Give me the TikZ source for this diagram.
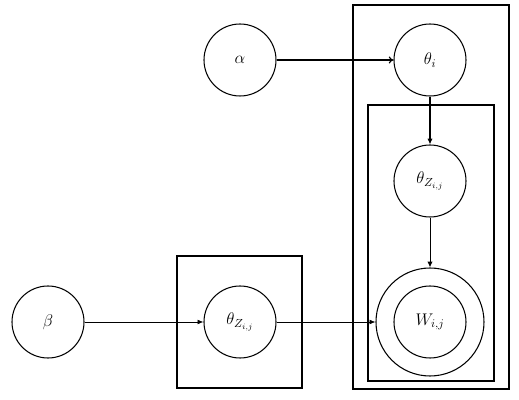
\documentclass[tikz,border=0pt]{standalone}
\usetikzlibrary{arrows.meta}
\begin{document}
\begin{tikzpicture}[x=0.03cm,y=-0.03cm,
  var/.style={circle,draw,line width=0.9pt,minimum size=72*0.03cm,inner sep=0pt,font=\Large},
  plate/.style={draw,line width=1.3pt},
  edge/.style={-{Latex[length=5pt,width=4pt]},line width=0.6pt}]
\useasboundingbox (0,0) rectangle (519,400);
% plates
\draw[plate] (353,5) rectangle (509,389);
\draw[plate] (368,105) rectangle (494,381);
\draw[plate] (177,256) rectangle (302,388);
% nodes
\node[var] (alpha) at (240,60) {$\alpha$};
\node[var] (thetai) at (430,60) {$\theta_i$};
\node[var] (thetaz) at (430,181) {$\theta_{Z_{i,j}}$};
\node[var,minimum size=108*0.03cm] (wout) at (430,322) {};
\node[var] (w) at (430,322) {$W_{i,j}$};
\node[var] (beta) at (48,322) {$\beta$};
\node[var] (thetazb) at (240,322) {$\theta_{Z_{i,j}}$};
% edges
\draw[-{To[length=4pt,width=6pt]},line width=1pt] (alpha) -- (thetai);
\draw[-{Latex[length=5pt,width=4.5pt]},line width=0.9pt] (thetai) -- (thetaz);
\draw[-{Latex[length=5pt,width=4.5pt]},line width=0.8pt] (thetaz) -- (wout);
\draw[edge] (beta) -- (thetazb);
\draw[edge] (thetazb) -- (wout);
\end{tikzpicture}
\end{document}
